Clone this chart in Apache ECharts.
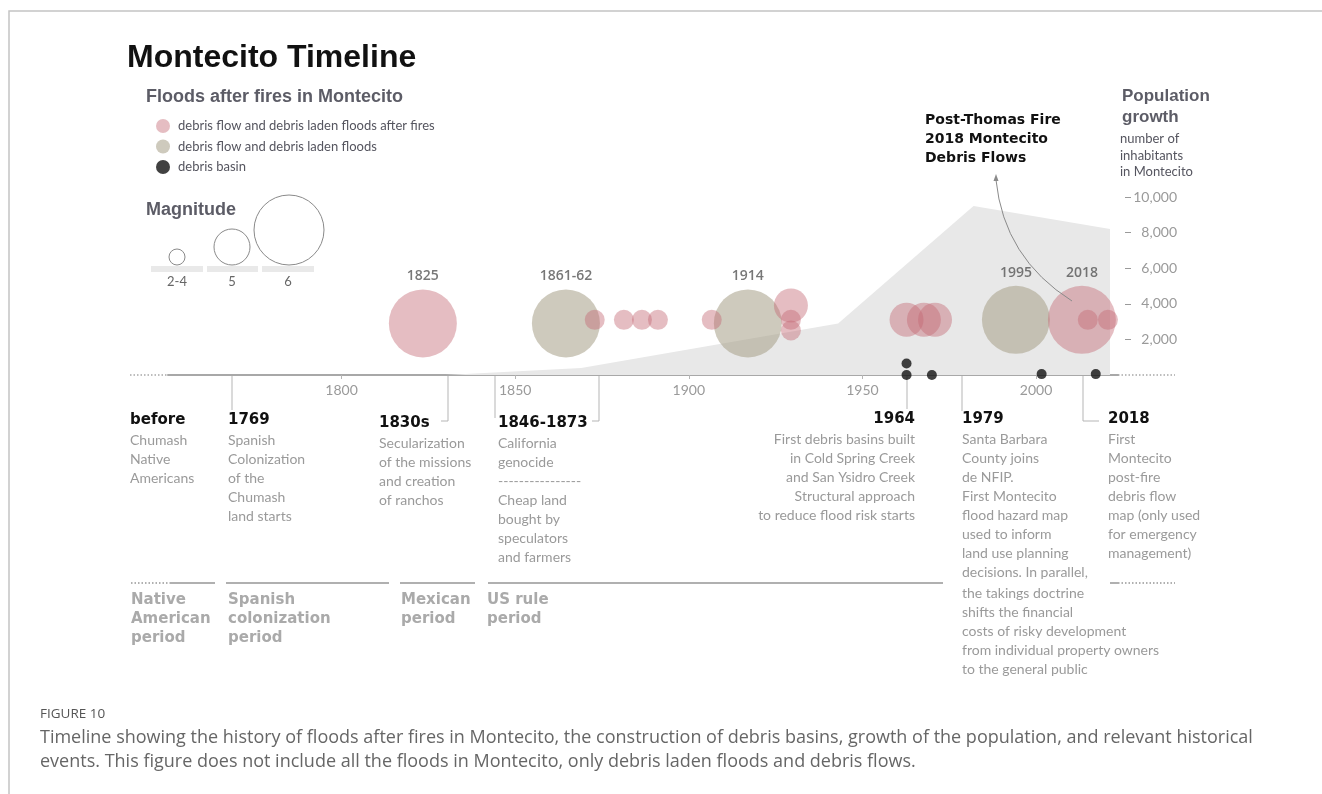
<!DOCTYPE html>
<html>
<head>
<meta charset="utf-8">
<script src="https://cdn.jsdelivr.net/npm/echarts@6/dist/echarts.min.js"></script>
<style>
  html, body { margin: 0; padding: 0; background: #fff; }
  #main { width: 1322px; height: 794px; }
</style>
</head>
<body>
<div id="main"></div>
<script>
// population growth, number of inhabitants in Montecito
var popYears = [1830, 1869, 1943, 1982, 2021.3];
var popValues = [0, 400, 2900, 9500, 8200];
var popTicks = [2000, 4000, 6000, 8000, 10000];

// timeline ticks
var yearTicks = [1800, 1850, 1900, 1950, 2000];

// debris flow and debris laden floods after fires
var fireYears = [1823.4, 1872.9, 1881.3, 1886.5, 1891.1, 1906.6, 1929.4, 1929.4, 1929.4, 1962.7, 1967.7, 1970.9, 2013.2, 2014.9, 2020.7];
var fireMagnitude = [6, 3, 3, 3, 3, 3, 5, 3, 3, 5, 5, 5, 6, 3, 3];
var fireRow = [2.9, 3.1, 3.1, 3.1, 3.1, 3.1, 3.9, 3.1, 2.5, 3.1, 3.1, 3.1, 3.1, 3.1, 3.1];
var fireLabels = ['1825', '', '', '', '', '', '', '', '', '', '', '', '2018', '', ''];

// debris flow and debris laden floods
var floodYears = [1864.6, 1917, 1994.2];
var floodMagnitude = [6, 6, 6];
var floodRow = [2.9, 2.9, 3.1];
var floodLabels = ['1861-62', '1914', '1995'];

// debris basins
var basinYears = [1962.7, 1962.7, 1970, 2001.6, 2017.2];
var basinRow = [0.65, 0, 0, 0.05, 0.05];

// magnitude -> bubble diameter
var magSize = { 3: 20, 5: 34, 6: 68 };

var HEAD = 'bold 18px "Liberation Sans"';
var EVENT = 'bold 15px "DejaVu Sans"';
var PERIOD = 'bold 15px "DejaVu Sans"';
var BODY = '14px Lato';
var GREY = '#9a9a9a';
var DARK = '#5c5c66';

function pts(xs, rows, extra) {
  return xs.map(function (x, i) {
    return [x, rows[i], extra ? extra[0][i] : 0, extra ? extra[1][i] : ''];
  });
}

function txt(x, y, text, font, fill, align, lh) {
  return {
    type: 'text', x: x, y: y, silent: true,
    style: {
      text: text, font: font, fill: fill,
      textAlign: align || 'left',
      textVerticalAlign: lh ? 'top' : 'middle',
      lineHeight: lh || 19
    }
  };
}

function line(points, color, width, dash) {
  return {
    type: 'polyline', silent: true,
    shape: { points: points },
    style: { stroke: color, lineWidth: width || 1, fill: null, lineDash: dash || null }
  };
}

var graphics = [
  // frame
  line([[9, 794], [9, 11], [1322, 11]], '#c4c4c4', 1.5),
  txt(127, 58, 'Montecito Timeline', 'bold 32px "Liberation Sans"', '#111'),
  txt(146, 97, 'Floods after fires in Montecito', HEAD, DARK),
  txt(146, 210, 'Magnitude', HEAD, DARK),

  // magnitude key
  { type: 'circle', silent: true, shape: { cx: 177, cy: 257, r: 8 }, style: { fill: null, stroke: '#8a8a8a', lineWidth: 1 } },
  { type: 'circle', silent: true, shape: { cx: 232, cy: 247, r: 18 }, style: { fill: null, stroke: '#8a8a8a', lineWidth: 1 } },
  { type: 'circle', silent: true, shape: { cx: 289, cy: 230, r: 35 }, style: { fill: null, stroke: '#8a8a8a', lineWidth: 1 } },
  { type: 'rect', silent: true, shape: { x: 151, y: 266, width: 52, height: 6 }, style: { fill: '#e9e9e9' } },
  { type: 'rect', silent: true, shape: { x: 207, y: 266, width: 51, height: 6 }, style: { fill: '#e9e9e9' } },
  { type: 'rect', silent: true, shape: { x: 262, y: 266, width: 52, height: 6 }, style: { fill: '#e9e9e9' } },
  txt(177, 282, '2-4', '13px Lato', '#666', 'center'),
  txt(232, 282, '5', '13px Lato', '#666', 'center'),
  txt(288, 282, '6', '13px Lato', '#666', 'center'),

  // population axis title
  txt(1122, 86, 'Population\ngrowth', 'bold 17px "Liberation Sans"', DARK, 'left', 21),
  txt(1120, 131, 'number of\ninhabitants\nin Montecito', '13px Lato', '#55555f', 'left', 16.5),

  // 2018 callout
  txt(925, 111, 'Post-Thomas Fire\n2018 Montecito\nDebris Flows', 'bold 14px "DejaVu Sans"', '#111', 'left', 19),
  { type: 'bezierCurve', silent: true, z: 10,
    shape: { x1: 1072, y1: 301, cpx1: 1004, cpy1: 258, x2: 996, y2: 180 },
    style: { stroke: '#8a8a8a', lineWidth: 1, fill: null } },
  { type: 'polygon', silent: true, z: 10,
    shape: { points: [[996, 174], [993.5, 181], [998.5, 181]] },
    style: { fill: '#8a8a8a' } },

  // timeline extensions
  line([[130, 375], [168, 375]], '#a8a8a8', 1.5, [1.5, 2]),
  line([[1118, 375], [1175, 375]], '#a8a8a8', 1.5, [1.5, 2]),

  // leader lines
  line([[232, 376], [232, 410]], '#b5b5b5'),
  line([[448, 376], [448, 421], [441, 421]], '#b5b5b5'),
  line([[495, 376], [495, 418]], '#b5b5b5'),
  line([[599, 376], [599, 421], [592, 421]], '#b5b5b5'),
  line([[907, 376], [907, 409]], '#b5b5b5'),
  line([[962, 376], [962, 411]], '#b5b5b5'),
  line([[1083, 376], [1083, 421], [1099, 421]], '#b5b5b5'),

  // events
  txt(130, 420, 'before', EVENT, '#111'),
  txt(130, 430.5, 'Chumash\nNative\nAmericans', BODY, GREY, 'left', 19),
  txt(228, 420, '1769', EVENT, '#111'),
  txt(228, 430.5, 'Spanish\nColonization\nof the\nChumash\nland starts', BODY, GREY, 'left', 19),
  txt(379, 423, '1830s', EVENT, '#111'),
  txt(379, 433.5, 'Secularization\nof the missions\nand creation\nof ranchos', BODY, GREY, 'left', 19),
  txt(498, 423, '1846-1873', EVENT, '#111'),
  txt(498, 433.5, 'California\ngenocide\n----------------\nCheap land\nbought by\nspeculators\nand farmers', BODY, GREY, 'left', 19),
  txt(915, 419, '1964', EVENT, '#111', 'right'),
  txt(915, 429.5, 'First debris basins built\nin Cold Spring Creek\nand San Ysidro Creek\nStructural approach\nto reduce flood risk starts', BODY, GREY, 'right', 19),
  txt(962, 419, '1979', EVENT, '#111'),
  txt(962, 429.5, 'Santa Barbara\nCounty joins\nde NFIP.\nFirst Montecito\nflood hazard map\nused to inform\nland use planning\ndecisions. In parallel,', BODY, GREY, 'left', 19),
  txt(962, 583.5, 'the takings doctrine\nshifts the financial\ncosts of risky development\nfrom individual property owners\nto the general public', BODY, GREY, 'left', 19),
  txt(1108, 419, '2018', EVENT, '#111'),
  txt(1108, 429.5, 'First\nMontecito\npost-fire\ndebris flow\nmap (only used\nfor emergency\nmanagement)', BODY, GREY, 'left', 19),

  // periods
  line([[131, 583], [170, 583]], '#b0b0b0', 2, [1.5, 2]),
  line([[170, 583], [215, 583]], '#b0b0b0', 2),
  line([[226, 583], [389, 583]], '#b0b0b0', 2),
  line([[400, 583], [475, 583]], '#b0b0b0', 2),
  line([[488, 583], [943, 583]], '#b0b0b0', 2),
  line([[1110, 583], [1118, 583]], '#b0b0b0', 2),
  line([[1118, 583], [1175, 583]], '#b0b0b0', 2, [1.5, 2]),
  txt(131, 590.5, 'Native\nAmerican\nperiod', PERIOD, '#aaa', 'left', 19),
  txt(228, 590.5, 'Spanish\ncolonization\nperiod', PERIOD, '#aaa', 'left', 19),
  txt(401, 590.5, 'Mexican\nperiod', PERIOD, '#aaa', 'left', 19),
  txt(487, 590.5, 'US rule\nperiod', PERIOD, '#aaa', 'left', 19),

  // caption
  txt(40, 714, 'FIGURE 10', '13.5px "Open Sans"', '#555'),
  txt(40, 726, 'Timeline showing the history of floods after fires in Montecito, the construction of debris basins, growth of the population, and relevant historical\nevents. This figure does not include all the floods in Montecito, only debris laden floods and debris flows.', '18px "Open Sans"', '#666', 'left', 24)
];

var bubbleLabel = {
  show: true, position: 'top', distance: 6,
  color: '#555', fontSize: 14, fontWeight: 600, fontFamily: '"Open Sans"',
  formatter: function (p) { return p.value[3]; }
};

var chart = echarts.init(document.getElementById('main'), null, { renderer: 'canvas' });
chart.setOption({
  animation: false,
  backgroundColor: '#fff',
  textStyle: { fontFamily: 'Lato' },
  grid: { left: 168, right: 204, top: 197, bottom: 419 },
  legend: {
    orient: 'vertical', left: 151, top: 114,
    itemWidth: 14, itemHeight: 14, itemGap: 6.5, icon: 'circle',
    textStyle: { color: '#55555f', fontSize: 13, fontFamily: 'Lato', padding: [0, 0, 0, 3] },
    data: ['debris flow and debris laden floods after fires', 'debris flow and debris laden floods', 'debris basin'],
    selectedMode: false
  },
  xAxis: {
    type: 'value', min: 1750, max: 2023.6, interval: 50,
    splitLine: { show: false },
    axisLine: { lineStyle: { color: '#a8a8a8', width: 2 } },
    axisTick: { customValues: yearTicks, length: 4, lineStyle: { color: '#b5b5b5' } },
    axisLabel: {
      customValues: yearTicks, margin: 8, color: '#9a9a9a', fontSize: 14, fontFamily: 'Lato',
      formatter: function (v) { return String(v); }
    }
  },
  yAxis: [{
    type: 'value', position: 'right', offset: 7, min: 0, max: 10000, interval: 2000,
    splitLine: { show: false },
    axisLine: { show: false },
    axisTick: { show: true, customValues: popTicks, length: 6, lineStyle: { color: '#9a9a9a' } },
    axisLabel: {
      customValues: popTicks, align: 'right', margin: 52,
      color: '#9a9a9a', fontSize: 14, fontFamily: 'Lato',
      formatter: function (v) { return v.toLocaleString('en-US'); }
    }
  }, {
    type: 'value', min: 0, max: 10, show: false
  }],
  series: [{
    name: 'population', type: 'line', yAxisIndex: 0, z: 1, silent: true,
    data: popYears.map(function (y, i) { return [y, popValues[i]]; }),
    symbol: 'none', lineStyle: { width: 0 },
    areaStyle: { color: '#e8e8e8', opacity: 1 }
  }, {
    name: 'debris flow and debris laden floods', type: 'scatter', yAxisIndex: 1, z: 3, clip: false,
    data: pts(floodYears, floodRow, [floodMagnitude, floodLabels]),
    symbolSize: function (v) { return magSize[v[2]]; },
    itemStyle: { color: 'rgba(168,160,138,0.7)' },
    label: bubbleLabel
  }, {
    name: 'debris flow and debris laden floods after fires', type: 'scatter', yAxisIndex: 1, z: 4, clip: false,
    data: pts(fireYears, fireRow, [fireMagnitude, fireLabels]),
    symbolSize: function (v) { return magSize[v[2]]; },
    itemStyle: { color: 'rgba(196,104,116,0.55)' },
    label: bubbleLabel
  }, {
    name: 'debris basin', type: 'scatter', yAxisIndex: 1, z: 5, clip: false,
    data: pts(basinYears, basinRow),
    symbolSize: 10,
    itemStyle: { color: '#111' }
  }],
  graphic: graphics
});
</script>
</body>
</html>
